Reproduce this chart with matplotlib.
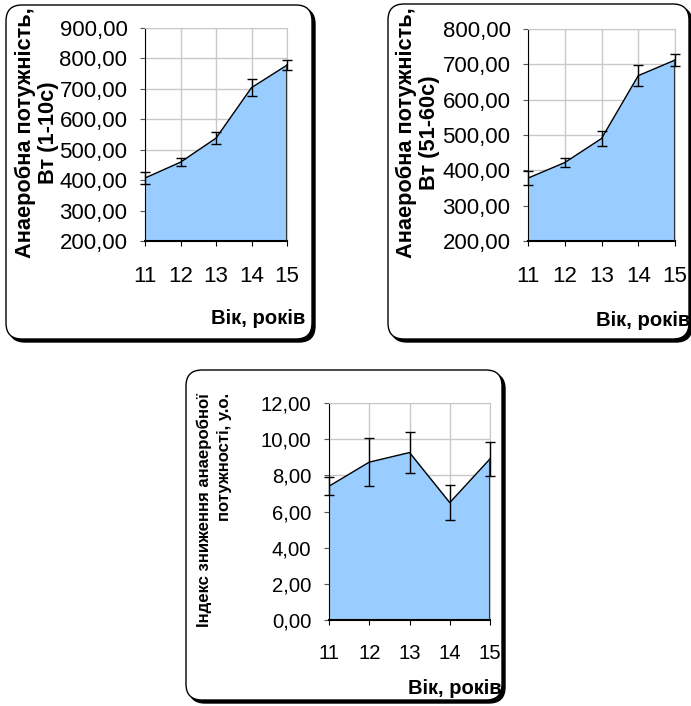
import matplotlib
matplotlib.use("Agg")
import matplotlib.pyplot as plt
from matplotlib.patches import FancyBboxPatch
from matplotlib import font_manager

# ages of the groups
ages = [11, 12, 13, 14, 15]

# anaerobic power, first 10 s
power_10s = [407, 459, 538, 704, 778]
err_10s = [21, 13, 20, 27, 17]

# anaerobic power, 51-60 s
power_60s = [378, 422, 490, 668, 712]
err_60s = [20, 12, 20, 29, 18]

# anaerobic power decrease index
index_drop = [7.40, 8.73, 9.26, 6.49, 8.91]
err_index = [0.50, 1.33, 1.12, 0.95, 0.93]

ticks_10s = [200, 300, 400, 500, 600, 700, 800, 900]
ticks_60s = [200, 300, 400, 500, 600, 700, 800]
ticks_index = [0, 2, 4, 6, 8, 10, 12]

W, H = 691, 706
plt.rcParams['font.family'] = ['Liberation Sans', 'DejaVu Sans']

# narrow font for the squeezed label of the third chart
try:
    font_manager.findfont('Liberation Sans Narrow', fallback_to_default=False)
    narrow = ['Liberation Sans Narrow', 'Liberation Sans', 'DejaVu Sans']
except Exception:
    narrow = ['Liberation Sans', 'DejaVu Sans']

fig = plt.figure(figsize=(W / 100, H / 100), dpi=100)


def frame(x0, y0, x1, y1):
    """rounded box with a dark shadow, given in pixel coords from the top left"""
    tr = fig.dpi_scale_trans
    sh = FancyBboxPatch((x0 / 100 + 0.03, (H - y1) / 100 - 0.03), (x1 - x0) / 100, (y1 - y0) / 100,
                        boxstyle="round,pad=0,rounding_size=0.16", transform=tr,
                        facecolor='black', edgecolor='black', lw=1, zorder=0)
    box = FancyBboxPatch((x0 / 100, (H - y1) / 100), (x1 - x0) / 100, (y1 - y0) / 100,
                         boxstyle="round,pad=0,rounding_size=0.16", transform=tr,
                         facecolor='white', edgecolor='black', lw=1, zorder=0.1)
    fig.patches.append(sh)
    fig.patches.append(box)


def axes_px(left, top, right, bottom):
    ax = fig.add_axes([left / W, 1 - bottom / H, (right - left) / W, (bottom - top) / H])
    ax.set_zorder(2)
    return ax


def draw_panel(ax, values, errs, yticks, tick_size, xpad):
    ymin = yticks[0]
    ax.fill_between(ages, ymin, values, color='#99CCFF', zorder=2)
    ax.plot(ages, values, color='black', lw=1, zorder=3)
    ax.plot([ages[-1], ages[-1]], [ymin, values[-1]], color='#333333', lw=1.5, zorder=3)
    ax.errorbar(ages, values, yerr=errs, fmt='none', ecolor='black', elinewidth=1,
                capsize=3.6, capthick=1, zorder=4, clip_on=False)
    ax.set_xlim(ages[0], ages[-1])
    ax.set_ylim(yticks[0], yticks[-1])
    ax.set_xticks(ages)
    ax.set_yticks(yticks)
    ax.set_yticklabels([f"{v:.2f}".replace('.', ',') for v in yticks])
    ax.grid(True, color='#C8C8C8', lw=1, zorder=1)
    ax.set_axisbelow(True)
    for s in ['top', 'right']:
        ax.spines[s].set_color('#C8C8C8')
    ax.spines['left'].set_color('black')
    ax.spines['bottom'].set_color('black')
    ax.spines['bottom'].set_linewidth(1.5)
    ax.tick_params(axis='y', length=3.6, color='#555555', pad=9.0, labelsize=tick_size)
    ax.tick_params(axis='x', length=3.6, color='black', pad=xpad, labelsize=tick_size)


# chart 1
frame(6, 5, 312, 339)
ax1 = axes_px(145, 28, 287, 241)
draw_panel(ax1, power_10s, err_10s, ticks_10s, 16, 14.5)
fig.text(37 / W, 1 - 133 / H, "Анаеробна потужність,\nВт (1-10с)", rotation=90,
         ha='center', va='center', fontsize=15.7, fontweight='bold', linespacing=1.1)
fig.text(305 / W, 1 - 319 / H, "Вік, років", ha='right', va='center',
         fontsize=14.6, fontweight='bold')

# chart 2
frame(388, 4, 689, 339)
ax2 = axes_px(528, 29, 675, 241)
draw_panel(ax2, power_60s, err_60s, ticks_60s, 16, 14.5)
fig.text(418 / W, 1 - 133 / H, "Анаеробна потужність,\nВт (51-60с)", rotation=90,
         ha='center', va='center', fontsize=15.7, fontweight='bold', linespacing=1.1)
fig.text(690 / W, 1 - 321 / H, "Вік, років", ha='right', va='center',
         fontsize=14.6, fontweight='bold')

# chart 3
frame(186, 370, 502, 700)
ax3 = axes_px(329, 403, 490, 620)
draw_panel(ax3, index_drop, err_index, ticks_index, 14.6, 13.5)
fig.text(214 / W, 1 - 510 / H, "Індекс зниження анаеробної\nпотужності, у.о.", rotation=90,
         ha='center', va='center', multialignment='right', fontsize=12.1,
         fontweight='bold', family=narrow, linespacing=1.45)
fig.text(502 / W, 1 - 688 / H, "Вік, років", ha='right', va='center',
         fontsize=14.5, fontweight='bold')

fig.savefig('out.png', dpi=100)
